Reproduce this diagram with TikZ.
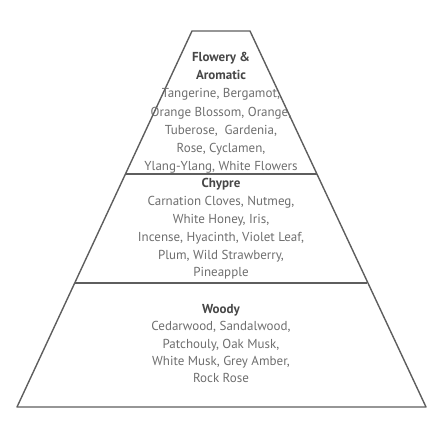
\documentclass[tikz,border=0pt]{standalone}
\usepackage{fontspec}
\setmainfont{PT Sans}
\usepackage{xcolor}
\usepackage{tikz}
\usetikzlibrary{positioning}

\definecolor{edgegray}{HTML}{5E5E5E}
\definecolor{headgray}{HTML}{474747}
\definecolor{notegray}{HTML}{6E6E6E}

\newcommand{\tierhead}[1]{\textcolor{headgray}{\bfseries #1}}

\begin{document}
\begin{tikzpicture}[
                x=1pt, y=-1pt,
                tierline/.style={draw=edgegray, line width=1.4pt},
                tiertext/.style={font=\fontsize{13}{18.2}\selectfont, text=notegray, align=center, inner sep=0pt, anchor=north}
            ]
                \useasboundingbox (0,0) rectangle (440,440);

                % Corners
                \coordinate (TL) at (192,31);
                \coordinate (TR) at (250,31);
                \coordinate (AL) at (125.5,174);
                \coordinate (AR) at (316.5,174);
                \coordinate (BL) at (75,283);
                \coordinate (BR) at (367,283);
                \coordinate (DL) at (17,407);
                \coordinate (DR) at (426,407);

                % Outline
                \draw[tierline, line join=round] (DL) -- (TL) -- (TR) -- (DR) -- cycle;
                \draw[tierline] (AL) -- (AR);
                \draw[tierline] (BL) -- (BR);

                % Tiers
                \node[tiertext] (flowery) at (221,52)
                    {\tierhead{Flowery \&}\\\tierhead{Aromatic}\\Tangerine, Bergamot,\\Orange Blossom, Orange,\\Tuberose,\ \ Gardenia,\\Rose, Cyclamen,\\Ylang-Ylang, White Flowers};
                \node[tiertext, font=\fontsize{13}{17.8}\selectfont] (chypre) at (221,178.5)
                    {\tierhead{Chypre}\\Carnation Cloves, Nutmeg,\\White Honey, Iris,\\Incense, Hyacinth, Violet Leaf,\\Plum, Wild Strawberry,\\Pineapple};
                \node[tiertext, font=\fontsize{13}{17.4}\selectfont] (woody) at (221,304)
                    {\tierhead{Woody}\\Cedarwood, Sandalwood,\\Patchouly, Oak Musk,\\White Musk, Grey Amber,\\Rock Rose};
            \end{tikzpicture}
\end{document}
